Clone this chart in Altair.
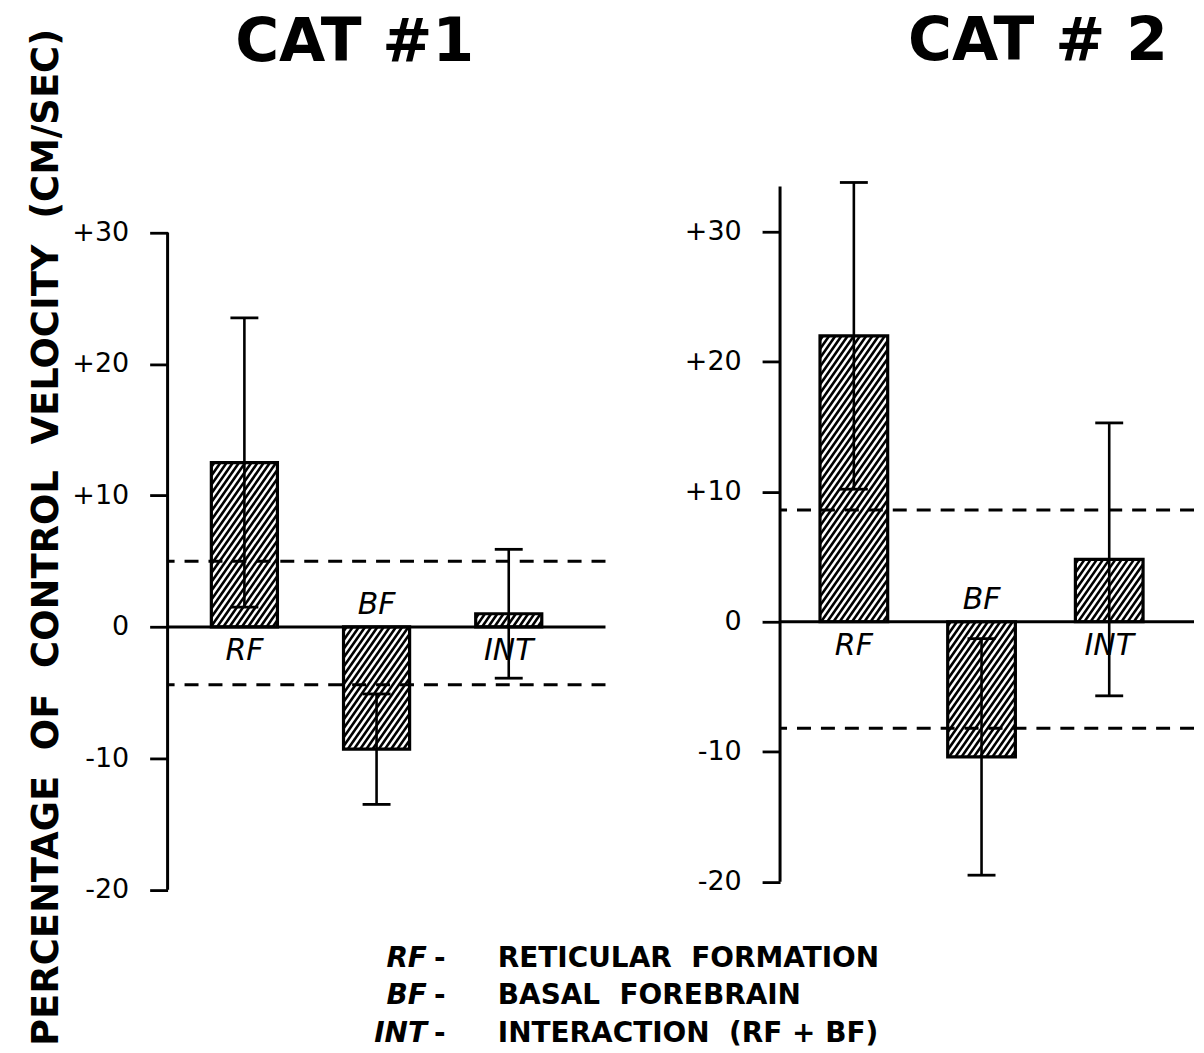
import altair as alt
import pandas as pd

# ---------------- data ----------------
categories = ["RF", "BF", "INT"]
cat1_mean = [12.5, -9.3, 1.0]
cat1_err = [11.0, 4.2, 4.9]
cat1_limits = [5.0, -4.4]
cat2_mean = [22.0, -10.4, 4.8]
cat2_err = [11.8, 9.1, 10.5]
cat2_limits = [8.6, -8.2]
y_ticks = [-20, -10, 0, 10, 20, 30]
legend_abbr = ["RF", "BF", "INT"]
legend_desc = ["RETICULAR\u00a0 FORMATION", "BASAL\u00a0 FOREBRAIN", "INTERACTION\u00a0 (RF + BF)"]
y_title = "PERCENTAGE\u00a0 OF\u00a0 CONTROL\u00a0 VELOCITY\u00a0 (CM/SEC)"
titles = ["CAT #1", "CAT # 2"]

FONT = "DejaVu Sans"


def hatch_lines(df, half, xs, ys, period=6.2, slope=1.43):
    """Diagonal hatch segments clipped to each bar (pattern fill)."""
    rows = []
    for _, r in df.iterrows():
        W = 2 * half * xs
        H = abs(r["mean"]) * ys
        xl = r["pos"] - half
        yb = min(0.0, r["mean"])
        c = -H / slope + period / 2
        while c < W:
            pa = max(0.0, c)
            pb = min(W, c + H / slope)
            if pb > pa:
                rows.append(dict(hx1=xl + pa / xs, hy1=yb + slope * (pa - c) / ys,
                                 hx2=xl + pb / xs, hy2=yb + slope * (pb - c) / ys))
            c += period
    return pd.DataFrame(rows)


def panel(title, title_dx, title_offset, means, errs, limits, xdom, ydom, width, height,
          half, axis_top, axis_title, with_legend):
    xs = width / (xdom[1] - xdom[0])
    ys = height / (ydom[1] - ydom[0])
    df = pd.DataFrame({"cat": categories, "pos": [1, 2, 3], "mean": means, "err": errs})
    df["lo"] = df["mean"] - df["err"]
    df["hi"] = df["mean"] + df["err"]
    df["xl"] = df["pos"] - half
    df["xr"] = df["pos"] + half
    df["zero"] = 0.0

    xsc = alt.Scale(domain=xdom, nice=False, zero=False)
    ysc = alt.Scale(domain=ydom, nice=False, zero=False)

    yaxis = alt.Axis(
        values=y_ticks, domain=False, grid=False, ticks=True, tickSize=18,
        tickWidth=2.8, tickColor="black", labelFont=FONT, labelFontSize=27,
        labelColor="black", labelPadding=21, labelOverlap=False, labelBound=False,
        labelExpr="datum.value > 0 ? '+' + datum.value : (datum.value < 0 ? '-' + abs(datum.value) : '0')",
        title=axis_title, titleFont=FONT, titleFontSize=37, titleFontWeight="bold",
        titleColor="black", titlePadding=6, titleLimit=3000,
    )

    def X(f):
        return alt.X(f, scale=xsc, axis=None)

    def Y(f):
        return alt.Y(f, scale=ysc, axis=yaxis)

    base = alt.Chart(df)
    bars = base.mark_rect(fill="white").encode(
        x=X("xl:Q"), x2="xr:Q", y=Y("mean:Q"), y2="zero:Q")
    hatch = alt.Chart(hatch_lines(df, half, xs, ys)).mark_rule(
        color="black", strokeWidth=2.6).encode(
        x=X("hx1:Q"), x2="hx2:Q", y=Y("hy1:Q"), y2="hy2:Q")
    outline = base.mark_rect(fillOpacity=0, stroke="black", strokeWidth=3.2).encode(
        x=X("xl:Q"), x2="xr:Q", y=Y("mean:Q"), y2="zero:Q")
    labels_below = base.transform_filter("datum.mean >= 0").mark_text(
        font=FONT, fontSize=30, fontStyle="italic", baseline="top", dy=9,
        color="black").encode(x=X("pos:Q"), y=Y("zero:Q"), text="cat:N")
    labels_above = base.transform_filter("datum.mean < 0").mark_text(
        font=FONT, fontSize=30, fontStyle="italic", baseline="alphabetic", dy=-13,
        color="black").encode(x=X("pos:Q"), y=Y("zero:Q"), text="cat:N")
    err = base.mark_rule(color="black", strokeWidth=2.6).encode(
        x=X("pos:Q"), y=Y("lo:Q"), y2="hi:Q")
    caps = base.transform_fold(["lo", "hi"], as_=["end", "val"]).mark_tick(
        color="black", orient="horizontal", size=28, thickness=2.8, opacity=1).encode(
        x=X("pos:Q"), y=Y("val:Q"))
    lim = alt.Chart(pd.DataFrame({"v": limits})).mark_rule(
        color="black", strokeWidth=3, strokeDash=[14, 10]).encode(y=Y("v:Q"))
    zero_line = alt.Chart(pd.DataFrame({"z": [0.0]})).mark_rule(
        color="black", strokeWidth=3).encode(y=Y("z:Q"))
    axis_line = alt.Chart(pd.DataFrame({"a": [float(y_ticks[0])], "b": [axis_top]})).mark_rule(
        color="black", strokeWidth=3).encode(x=alt.value(0), y=Y("a:Q"), y2="b:Q")

    layers = [bars, hatch, outline, labels_below, labels_above, err, caps, lim,
              zero_line, axis_line]

    if with_legend:
        leg = alt.Chart(pd.DataFrame({
            "abbr": ["\n".join(legend_abbr)],
            "dash": ["\n".join(["-"] * len(legend_abbr))],
            "desc": ["\n".join(legend_desc)],
        }))
        common = dict(baseline="middle", font=FONT, fontSize=28, fontWeight="bold",
                      color="black", lineBreak="\n", lineHeight=37.5)
        layers += [
            leg.mark_text(align="right", fontStyle="italic", **common).encode(
                x=alt.value(260), y=alt.value(781), text="abbr:N"),
            leg.mark_text(align="center", **common).encode(
                x=alt.value(273), y=alt.value(781), text="dash:N"),
            leg.mark_text(align="left", **common).encode(
                x=alt.value(331), y=alt.value(781), text="desc:N"),
        ]

    return alt.layer(
        *layers,
        title=alt.TitleParams(title, font=FONT, fontSize=60, fontWeight="bold", color="black",
                              anchor="middle", frame="group", dx=title_dx, offset=title_offset,
                              baseline="alphabetic"),
    ).properties(width=width, height=height)


p1 = panel(titles[0], -32, -93, cat1_mean, cat1_err, cat1_limits,
           [0.419, 3.732], [-20.32, 34.0], 439, 716, 0.25, 30.0, y_title, True)
p2 = panel(titles[1], 51, 60, cat2_mean, cat2_err, cat2_limits,
           [0.422, 3.664], [-20.57, 34.0], 415, 711, 0.265, 33.5, "", False)

chart = alt.hconcat(p1, p2, spacing=175, bounds="flush").properties(
    padding={"left": 20, "top": 3, "right": 0, "bottom": 0},
    background="white",
).configure_view(strokeWidth=0)

chart.save("out.html", embed_options={"renderer": "svg", "actions": False})
